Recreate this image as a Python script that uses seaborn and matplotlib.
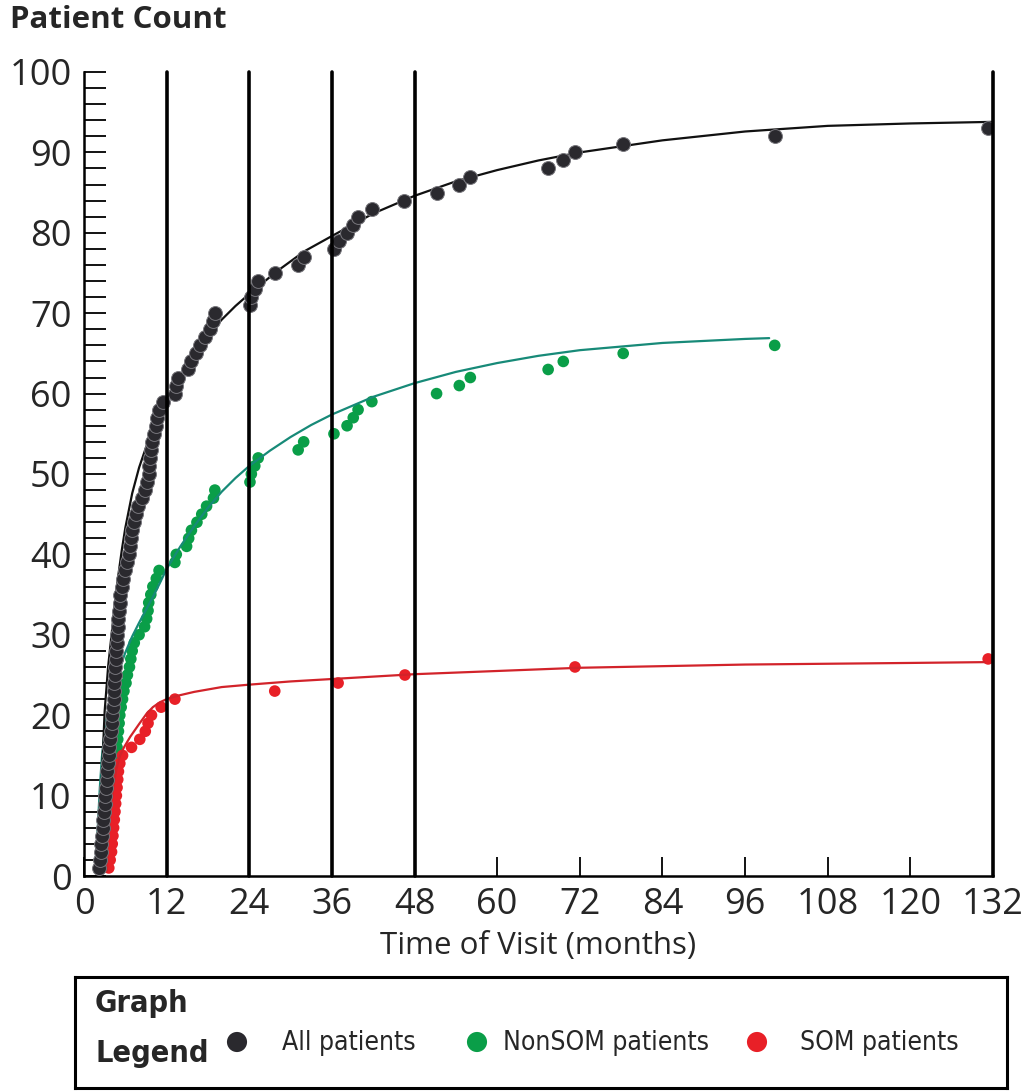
import numpy as np
import pandas as pd
import matplotlib
matplotlib.use("Agg")
import matplotlib.pyplot as plt
from matplotlib.ticker import MultipleLocator
import seaborn as sns

# ---------------- data ----------------
# time of visit (months) for each newly counted patient, in order of count
all_times = [2.2, 2.3, 2.4, 2.5, 2.6, 2.7, 2.8, 2.9, 3.0, 3.1,
             3.2, 3.3, 3.4, 3.5, 3.6, 3.7, 3.8, 3.9, 4.0, 4.1,
             4.2, 4.3, 4.35, 4.4, 4.5, 4.55, 4.6, 4.7, 4.8, 4.85,
             4.9, 5.0, 5.1, 5.2, 5.3, 5.5, 5.7, 6.0, 6.3, 6.6,
             6.7, 6.8, 7.0, 7.2, 7.5, 7.9, 8.4, 8.9, 9.2, 9.4,
             9.5, 9.6, 9.7, 9.9, 10.1, 10.4, 10.6, 10.9, 11.4, 13.2,
             13.4, 13.6, 15.1, 15.5, 16.2, 16.9, 17.6, 18.3, 18.8, 19.0,
             24.1, 24.3, 24.8, 25.3, 27.8, 31.1, 31.9, 36.3, 37.0, 38.2,
             39.1, 39.8, 41.8, 46.5, 51.2, 54.5, 56.1, 67.4, 69.6, 71.3,
             78.3, 100.3, 131.3]
nonsom_times = [2.4, 2.6, 2.8, 3.0, 3.2, 3.4, 3.6, 3.7, 3.8, 3.9,
                4.0, 4.1, 4.2, 4.5, 4.7, 4.8, 4.9, 5.0, 5.1, 5.2,
                5.4, 5.6, 5.8, 6.1, 6.3, 6.6, 6.8, 7.0, 7.3, 8.0,
                8.8, 9.1, 9.3, 9.4, 9.7, 10.0, 10.5, 10.9, 13.2, 13.4,
                14.9, 15.2, 15.6, 16.4, 17.1, 17.8, 18.8, 19.0, 24.1, 24.3,
                24.8, 25.3, 31.1, 31.9, 36.3, 38.2, 39.1, 39.8, 41.8, 51.2,
                54.5, 56.1, 67.4, 69.6, 78.3, 100.3]
som_times = [3.6, 3.8, 4.0, 4.1, 4.2, 4.3, 4.4, 4.5, 4.6, 4.7,
             4.8, 4.9, 5.0, 5.2, 5.6, 6.9, 8.1, 8.9, 9.3, 9.8,
             11.2, 13.2, 27.7, 36.9, 46.6, 71.3, 131.3]

# fitted trend curves
all_fit_x = [2.0, 2.3, 2.6, 3.0, 3.5, 4.0, 4.5, 5.0, 5.5, 6.0, 7.0, 8.0, 9.0,
             10.0, 11.0, 12.0, 14.0, 16.0, 18.0, 20.0, 22.0, 24.0, 28.0, 32.0,
             36.0, 42.0, 48.0, 54.0, 60.0, 66.0, 72.0, 84.0, 96.0, 108.0,
             120.0, 132.0]
all_fit_y = [0.5, 6.0, 12.5, 20.5, 26.0, 30.0, 34.0, 37.5, 40.6, 43.3, 47.6, 50.8, 53.3,
             55.5, 57.5, 59.2, 62.2, 64.9, 67.2, 69.2, 70.9, 72.4, 75.2, 77.7,
             79.6, 82.4, 84.6, 86.4, 87.8, 89.0, 90.0, 91.5, 92.6, 93.3,
             93.6, 93.8]
nonsom_fit_x = [1.6, 2.0, 2.3, 2.6, 3.0, 3.4, 3.8, 4.4, 5.0, 6.0, 7.0, 8.0, 9.0,
                10.0, 11.0, 12.0, 14.0, 16.0, 18.0, 20.0, 22.0, 24.0, 27.0, 30.0,
                33.0, 36.0, 42.0, 48.0, 54.0, 60.0, 66.0, 72.0, 84.0, 96.0, 99.5]
nonsom_fit_y = [0.5, 6.0, 11.0, 14.8, 18.0, 20.2, 21.8, 23.7, 25.3, 27.8, 29.8, 31.5, 33.1,
                34.7, 36.4, 38.2, 41.0, 43.5, 45.8, 47.8, 49.5, 51.0, 52.9, 54.6,
                56.1, 57.4, 59.6, 61.3, 62.7, 63.8, 64.7, 65.4, 66.3, 66.8, 66.9]
som_fit_x = [3.3, 3.6, 3.9, 4.3, 4.7, 5.2, 5.8, 6.7, 8.0, 9.1, 10.0, 11.0, 12.0, 13.5,
             16.0, 20.0, 24.0, 30.0, 36.0, 48.0, 60.0, 72.0, 96.0, 120.0, 130.8]
som_fit_y = [0.5, 5.0, 8.5, 11.3, 13.3, 14.9, 16.0, 17.3, 18.9, 20.2, 21.0, 21.6, 22.0, 22.4,
             22.9, 23.5, 23.8, 24.2, 24.5, 25.1, 25.5, 25.9, 26.3, 26.5, 26.6]

x_ticks = [0, 12, 24, 36, 48, 60, 72, 84, 96, 108, 120, 132]
y_ticks = [0, 10, 20, 30, 40, 50, 60, 70, 80, 90, 100]
year_marks = [12, 24, 36, 48, 132]
legend_labels = ["All patients", "NonSOM patients", "SOM patients"]

# ---------------- styling ----------------
C_ALL = "#2a292e"
C_NON = "#0a9e48"
C_SOM = "#e82027"
C_NON_FIT = "#178a78"
C_SOM_FIT = "#d2232a"

sns.set_style("white")
plt.rcParams["font.family"] = ["Open Sans", "DejaVu Sans"]

def cum_frame(times):
    return pd.DataFrame({"time": times, "count": np.arange(1, len(times) + 1)})

df_all = cum_frame(all_times)
df_non = cum_frame(nonsom_times)
df_som = cum_frame(som_times)

fig = plt.figure(figsize=(10.29, 10.91), dpi=100)
ax = fig.add_axes([84 / 1029, 1 - 876 / 1091, (993 - 84) / 1029, (876 - 72) / 1091])

# points & curves
sns.scatterplot(data=df_non, x="time", y="count", color=C_NON, s=70,
                edgecolor="none", ax=ax, zorder=3)
sns.scatterplot(data=df_som, x="time", y="count", color=C_SOM, s=70,
                edgecolor="none", ax=ax, zorder=4)
sns.lineplot(x=nonsom_fit_x, y=nonsom_fit_y, color=C_NON_FIT, lw=1.6, ax=ax,
             zorder=5, sort=False)
sns.lineplot(x=som_fit_x, y=som_fit_y, color=C_SOM_FIT, lw=1.6, ax=ax,
             zorder=5, sort=False)
sns.lineplot(x=all_fit_x, y=all_fit_y, color="#111111", lw=1.6, ax=ax,
             zorder=5, sort=False)
sns.scatterplot(data=df_all, x="time", y="count", color=C_ALL, s=100,
                edgecolor="#77767c", linewidth=0.7, ax=ax, zorder=6)

for xm in year_marks:
    ax.axvline(xm, color="black", lw=2.6, zorder=7, clip_on=False)

ax.set_xlim(0, 132)
ax.set_ylim(0, 100)
ax.set_xticks(x_ticks)
ax.set_yticks(y_ticks)
ax.yaxis.set_minor_locator(MultipleLocator(2))
ax.tick_params(axis="y", which="both", direction="in", length=16, width=1.3,
               color="black", labelsize=26, pad=9, left=True)
ax.tick_params(axis="x", which="major", direction="in", length=14, width=1.3,
               color="black", labelsize=26, pad=8, bottom=True)
for sp in ["top", "right"]:
    ax.spines[sp].set_visible(False)
for sp in ["left", "bottom"]:
    ax.spines[sp].set_linewidth(1.8)
    ax.spines[sp].set_color("black")
ax.set_xlabel("Time of Visit (months)", fontsize=22.5, labelpad=6)
ax.set_ylabel("")
if ax.get_legend():
    ax.get_legend().remove()

fig.text(10 / 1029, 1 - 20 / 1091, "Patient Count", fontsize=22.5,
         fontweight="bold", ha="left", va="center")

# ---------------- legend box ----------------
lax = fig.add_axes([75 / 1029, 1 - 1088 / 1091, 932 / 1029, 111 / 1091])
lax.set_xlim(0, 932)
lax.set_ylim(111, 0)
lax.set_xticks([])
lax.set_yticks([])
for sp in lax.spines.values():
    sp.set_linewidth(2.2)
    sp.set_color("black")
    sp.set_visible(True)
narrow = ["DejaVu Sans"]
lax.text(20, 27, "Graph", fontsize=22, fontweight="bold", family=narrow,
         stretch="condensed", ha="left", va="center")
lax.text(20, 77, "Legend", fontsize=22, fontweight="bold", family=narrow,
         stretch="condensed", ha="left", va="center")
mark_x = [162, 402, 682]
text_x = [207, 428, 725]
for mx, tx, col, lab in zip(mark_x, text_x, [C_ALL, C_NON, C_SOM], legend_labels):
    lax.scatter([mx], [65], s=210, color=col, edgecolor="none")
    lax.text(tx, 66, lab, fontsize=19, family=narrow, stretch="condensed",
             ha="left", va="center")

fig.savefig("out.png", dpi=100)
